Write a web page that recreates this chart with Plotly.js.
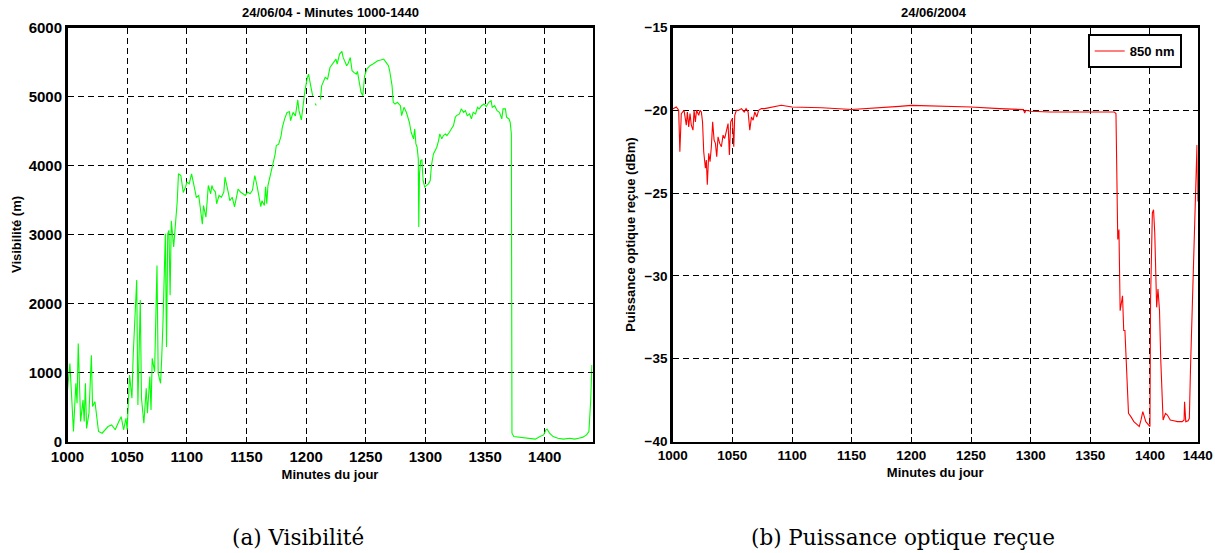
<!DOCTYPE html>
<html>
<head>
<meta charset="utf-8">
<script src="https://cdn.plot.ly/plotly-3.0.1.min.js"></script>
<style>
  html, body { margin: 0; padding: 0; background: #ffffff; }
  #chart { width: 1215px; height: 553px; }
</style>
</head>
<body>
<div id="chart"></div>
<script>
// ---------- Data: (a) Visibilité (m) vs minute of day ----------
const visMinutes = [1000,1002,1005,1007,1008,1009,1011,1013,1014,1015,1016,1018,1020,1021,1023,1026,1029,1032,1034,1037,1040,1043,1045,1047,1049,1050,1052,1054,1055,1058,1059,1061,1062,1064,1066,1067,1069,1070,1071,1073,1075,1076,1078,1079,1080,1082,1083,1084,1085,1086,1087,1089,1090,1092,1093,1095,1097,1099,1100,1102,1104,1107,1108,1110,1112,1113,1114,1116,1117,1118,1120,1121,1122,1124,1125,1127,1129,1131,1132,1134,1135,1136,1138,1140,1141,1143,1145,1147,1149,1151,1153,1155,1157,1159,1161,1162,1163,1165,1166,1167,1168,1170,1172,1174,1175,1177,1179,1180,1182,1184,1186,1187,1189,1191,1193,1194,1196,1197,1199,1201,1202,1204,1205.5,1206,1207.5,1208.5,1209,1212,1213,1216,1218,1220,1223,1225,1226,1228,1230,1231,1234,1235,1237,1238.5,1240,1242,1243,1245,1246,1247.5,1249,1251,1253.5,1256,1260,1262.5,1265,1267,1269,1270,1272,1273,1274.5,1276.5,1279,1280,1282,1284,1285,1286.5,1288,1290,1291,1292,1293,1294,1294.4,1295,1296,1297,1298,1299.4,1301,1302.5,1304,1305,1306.7,1308,1309.5,1311,1312,1313.7,1315,1316.8,1318,1320,1322,1323.5,1325,1326,1328.5,1330,1332,1333.5,1335,1337,1338.5,1340,1342,1343.6,1345,1347,1349,1351,1353,1355,1356,1358,1360,1362,1364,1365,1367,1368,1370,1371,1372,1372.5,1374,1378,1382,1388,1392,1396,1399,1401,1402,1404,1407,1411,1415.6,1421,1425,1428.5,1432,1435,1437,1438.5,1439.5];
const visValues = [747,1130,145,843,554,1420,290,600,290,843,190,410,1250,506,578,145,120,170,217,240,170,290,360,170,337,170,964,626,1230,2340,530,2050,626,265,771,410,940,458,1205,1012,2550,988,843,1230,1710,3010,1370,3010,3060,2120,3200,2820,3010,3490,3880,3855,3610,3690,3760,3735,3880,3640,3540,3565,3300,3150,3420,3250,3470,3710,3590,3710,3660,3615,3445,3565,3540,3615,3830,3690,3590,3490,3540,3400,3490,3660,3615,3590,3565,3615,3590,3640,3855,3690,3520,3405,3490,3420,3690,3445,3710,3855,4020,4160,4290,4310,4430,4550,4675,4770,4780,4650,4770,4720,4950,4795,4660,4820,5085,5275,5325,5140,5010,null,4900,4870,null,4955,5155,5277,5253,5420,5494,5542,5470,5614,5653,5566,5446,5470,5566,5373,5350,5325,5364,5180,5060,5010,5300,5400,5446,5470,5518,5528,5542,5494,5446,5373,5157,4916,4890,4916,4867,4723,4843,4771,4723,4627,4482,4386,4530,4313,4265,4096,3108,3880,4072,4082,3783,3687,3711,3735,3783,4000,4168,4217,4265,4361,4458,4386,4434,4458,4434,4482,4530,4578,4699,4723,4747,4820,4771,4795,4723,4747,4675,4771,4747,4843,4820,4867,4892,4853,4916,4940,4843,4867,4795,4771,4675,4820,4820,4699,4675,4627,4458,120,72,63,58,48,34,72,96,169,178,120,72,48,34,48,34,48,63,96,145,600,1108];

// ---------- Data: (b) Puissance optique reçue (dBm), 850 nm ----------
const powMinutes = [1000,1003,1005,1006,1007.2,1009.5,1011.4,1012.3,1013.4,1014.5,1015.6,1017,1017.9,1019,1020,1021.8,1022.9,1024,1025,1026,1027.4,1028.2,1029,1030.2,1031.3,1032.4,1033.5,1034.7,1035.8,1036.9,1038,1039.4,1040.8,1042.2,1043.6,1045,1046.4,1047.5,1048.6,1050,1051.2,1052,1053.4,1055.4,1057.6,1059.9,1061.5,1063.2,1064.6,1066,1067.4,1068.8,1070.5,1072,1074.3,1077,1082.8,1091,1100,1125,1150,1175,1190,1200,1218,1250,1274,1294,1295,1296,1300,1316,1350,1370,1371.5,1372.5,1373,1374,1375,1377,1378,1379,1380.5,1382,1384,1386.5,1389.5,1391,1392.5,1394,1396.5,1399,1400,1400.5,1402,1403,1404,1405.6,1406.7,1408,1409,1411,1413,1414.6,1417,1420,1423,1427,1428.6,1429,1430,1432,1433,1434,1436.5,1438,1439.4,1440];
const powValues = [-19.92,-19.8,-20.0,-22.5,-20.2,-20.0,-20.9,-20.1,-21.0,-20.2,-20.9,-21.2,-20.0,-20.7,-20.0,-20.3,-20.0,-20.1,-20.7,-22.5,-23.5,-23.0,-24.5,-22.6,-23.1,-22.2,-20.7,-21.8,-22.0,-22.8,-21.6,-22.0,-22.2,-21.5,-21.7,-21.3,-20.8,-22.7,-20.7,-20.5,-22.2,-20.3,-20.0,-20.0,-19.9,-20.1,-19.9,-20.1,-21.2,-20.4,-20.6,-20.1,-20.4,-20.0,-19.9,-19.9,-19.8,-19.7,-19.8,-19.85,-19.95,-19.85,-19.76,-19.7,-19.72,-19.8,-19.9,-19.96,-20.16,-20.0,-20.06,-20.1,-20.1,-20.1,-20.2,-25.4,-27.8,-27.2,-32.1,-31.2,-33.3,-33.3,-36.4,-38.3,-38.5,-38.8,-39.0,-39.1,-38.7,-38.2,-38.8,-39.0,-39.1,-31.4,-26.2,-26.0,-27.4,-31.9,-30.8,-32.1,-35.0,-38.7,-38.3,-38.4,-38.7,-38.75,-38.8,-38.8,-38.7,-37.6,-38.8,-38.75,-38.6,-35.5,-29.5,-24.4,-22.1,-25.5];

// ---------- Tick values ----------
const xTicksA = [1000,1050,1100,1150,1200,1250,1300,1350,1400];
const xTicksB = [1000,1050,1100,1150,1200,1250,1300,1350,1400,1440];
const yTicksA = [0,1000,2000,3000,4000,5000,6000];
const yTicksB = [-40,-35,-30,-25,-20,-15];

// ---------- Texts ----------
const titleA = "24/06/04 - Minutes 1000-1440";
const titleB = "24/06/2004";
const xTitle = "Minutes du jour";
const yTitleA = "Visibilité (m)";
const yTitleB = "Puissance optique reçue (dBm)";
const captionA = "(a) Visibilité";
const captionB = "(b) Puissance optique reçue";
const legendName = "850 nm";

// ---------- Layout geometry (pixels) ----------
const W = 1215, H = 553;
const plotTop = 27.5, plotBottom = 441.5;
const leftX0 = 67.5, leftX1 = 592.5;
const rightX0 = 672.7, rightX1 = 1197.7;
const px = v => v / W;
const py = v => 1 - v / H;

const sans = "'Liberation Sans', Arial, Helvetica, sans-serif";
const serif = "'DejaVu Serif', 'Liberation Serif', serif";

function axisCommon(extra) {
  return Object.assign({
    showline: true, linecolor: '#000', linewidth: 2.5, mirror: 'ticks',
    ticks: 'inside', ticklen: 5, tickwidth: 1, tickcolor: '#000',
    showgrid: true, gridcolor: '#000', gridwidth: 1, griddash: '6px,4px',
    zeroline: false, automargin: false, fixedrange: true,
    ticklabeloverflow: 'allow'
  }, extra);
}

const traces = [
  {
    x: visMinutes, y: visValues, type: 'scatter', mode: 'lines',
    line: { color: '#00ff00', width: 1.1 }, connectgaps: false,
    xaxis: 'x', yaxis: 'y', showlegend: false, name: 'Visibilité'
  },
  {
    x: powMinutes, y: powValues, type: 'scatter', mode: 'lines',
    line: { color: '#ff0000', width: 1.1 },
    xaxis: 'x2', yaxis: 'y2', showlegend: true, name: legendName
  }
];

const layout = {
  width: W, height: H,
  margin: { l: 0, r: 0, t: 0, b: 0, pad: 0 },
  paper_bgcolor: '#fff', plot_bgcolor: '#fff',
  font: { family: sans, color: '#000' },
  xaxis: axisCommon({
    domain: [px(leftX0), px(leftX1)], anchor: 'y',
    range: [1000, 1440], tickmode: 'array', tickvals: xTicksA,
    tickfont: { size: 15, weight: 'bold', family: sans },
    title: { text: xTitle, standoff: 6, font: { size: 13, weight: 'bold', family: sans } }
  }),
  yaxis: axisCommon({
    domain: [py(plotBottom), py(plotTop)], anchor: 'x',
    range: [0, 6000], tickmode: 'array', tickvals: yTicksA,
    tickfont: { size: 15, weight: 'bold', family: sans },
    title: { text: yTitleA, standoff: 4, font: { size: 13, weight: 'bold', family: sans } }
  }),
  xaxis2: axisCommon({
    domain: [px(rightX0), px(rightX1)], anchor: 'y2',
    range: [1000, 1440], tickmode: 'array', tickvals: xTicksB,
    tickfont: { size: 13.5, weight: 'bold', family: sans },
    title: { text: xTitle, standoff: 6, font: { size: 13, weight: 'bold', family: sans } }
  }),
  yaxis2: axisCommon({
    domain: [py(plotBottom), py(plotTop)], anchor: 'x2',
    range: [-40, -15], tickmode: 'array', tickvals: yTicksB,
    tickfont: { size: 13.5, weight: 'bold', family: sans },
    title: { text: yTitleB, standoff: 6, font: { size: 13, weight: 'bold', family: sans } }
  }),
  showlegend: true,
  legend: {
    x: px(1087.7), y: py(34), xanchor: 'left', yanchor: 'top',
    bgcolor: '#fff', bordercolor: '#000', borderwidth: 2,
    font: { size: 13, weight: 'bold', family: sans },
    itemwidth: 30, tracegroupgap: 0
  },
  annotations: [
    { text: titleA, x: px(330), y: py(12), xref: 'paper', yref: 'paper',
      xanchor: 'center', yanchor: 'middle', showarrow: false,
      font: { size: 13, weight: 'bold', family: sans } },
    { text: titleB, x: px(934), y: py(12), xref: 'paper', yref: 'paper',
      xanchor: 'center', yanchor: 'middle', showarrow: false,
      font: { size: 13, weight: 'bold', family: sans } },
    { text: captionA, x: px(298), y: py(537), xref: 'paper', yref: 'paper',
      xanchor: 'center', yanchor: 'middle', showarrow: false,
      font: { size: 21.5, family: serif } },
    { text: captionB, x: px(903), y: py(537), xref: 'paper', yref: 'paper',
      xanchor: 'center', yanchor: 'middle', showarrow: false,
      font: { size: 21.5, family: serif } }
  ]
};

Plotly.newPlot('chart', traces, layout, { displayModeBar: false, staticPlot: true });
</script>
</body>
</html>
